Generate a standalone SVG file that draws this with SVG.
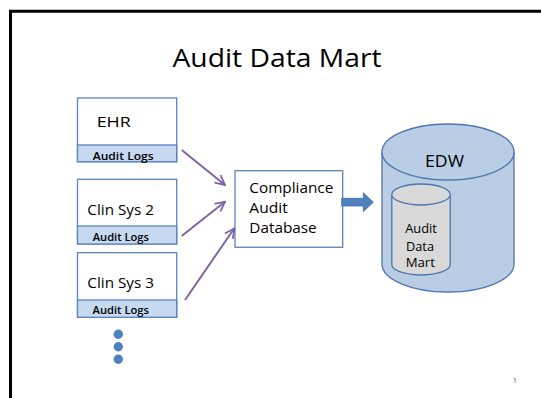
<svg xmlns="http://www.w3.org/2000/svg" width="541" height="398" viewBox="0 0 541 398">
<defs>
<style>
text{font-family:"Open Sans","Noto Sans",sans-serif;fill:#000}
.box{fill:#fff;stroke:#5B84BD;stroke-width:1.3}
.band{fill:#C6D9F1;stroke:#5B84BD;stroke-width:1.3}
.lbl{font-size:14.8px}
.logs{font-size:11px;font-weight:600}
.con{stroke:#8064A2;stroke-width:2;fill:none;marker-end:url(#ah)}
</style>
<marker id="ah" viewBox="0 0 10 10" refX="9" refY="5" markerWidth="6" markerHeight="6" orient="auto" markerUnits="strokeWidth">
<path d="M1,1 L9,5 L1,9" fill="none" stroke="#8064A2" stroke-width="1.5" stroke-linejoin="miter"/>
</marker>
</defs>
<rect width="541" height="398" fill="#fff"/>
<path d="M10.5,398 V11.3 H541" fill="none" stroke="#000" stroke-width="3"/>
<text x="277" y="66.7" font-size="25.8" text-anchor="middle" textLength="209" lengthAdjust="spacingAndGlyphs">Audit Data Mart</text>

<g id="ehr">
<rect class="box" x="77.5" y="98" width="99.2" height="63.7"/>
<rect class="band" x="77.5" y="145" width="99.2" height="16.7"/>
<text class="lbl" x="96.7" y="127.3" textLength="34" lengthAdjust="spacingAndGlyphs">EHR</text>
<text class="logs" x="92.7" y="159.5" font-size="11.6" textLength="61" lengthAdjust="spacingAndGlyphs">Audit Logs</text>
</g>
<g id="clin2">
<rect class="box" x="77.5" y="179.3" width="99.2" height="64.7"/>
<rect class="band" x="77.5" y="226" width="99.2" height="18"/>
<text class="lbl" x="87.3" y="215" textLength="66.7" lengthAdjust="spacingAndGlyphs">Clin Sys 2</text>
<text class="logs" x="92.7" y="240.7" textLength="56.3" lengthAdjust="spacingAndGlyphs">Audit Logs</text>
</g>
<g id="clin3">
<rect class="box" x="77.5" y="252.7" width="99.2" height="64.6"/>
<rect class="band" x="77.5" y="300" width="99.2" height="17.3"/>
<text class="lbl" x="87.3" y="287.7" textLength="66.7" lengthAdjust="spacingAndGlyphs">Clin Sys 3</text>
<text class="logs" x="92.5" y="314" textLength="56.5" lengthAdjust="spacingAndGlyphs">Audit Logs</text>
</g>
<g id="more" fill="#4F81BD">
<circle cx="118.3" cy="334.3" r="4.7"/>
<circle cx="118.3" cy="346.7" r="4.7"/>
<circle cx="118.3" cy="359.2" r="4.7"/>
</g>
<g id="compliance">
<rect class="box" x="235" y="170.7" width="107.7" height="76.6"/>
<text class="lbl" x="249.3" y="193.3" textLength="84" lengthAdjust="spacingAndGlyphs">Compliance</text>
<text class="lbl" x="249.3" y="213.3" textLength="38.4" lengthAdjust="spacingAndGlyphs">Audit</text>
<text class="lbl" x="249.3" y="233.3" textLength="67.4" lengthAdjust="spacingAndGlyphs">Database</text>
</g>
<g id="edw">
<path d="M382,152 V264 A66,28 0 0 0 514,264 V152" fill="#B9CDE5" stroke="#4F76AE" stroke-width="1.3"/>
<ellipse cx="448" cy="152" rx="66" ry="28" fill="#B9CDE5" stroke="#4F76AE" stroke-width="1.3"/>
<text x="444.5" y="166.7" font-size="15.4" text-anchor="middle" textLength="39" lengthAdjust="spacingAndGlyphs">EDW</text>
</g>
<g id="mart">
<path d="M391.8,194.5 V264.5 A29.2,10.5 0 0 0 450.2,264.5 V194.5" fill="#D9D9D9" stroke="#4F76AE" stroke-width="1.3"/>
<ellipse cx="421" cy="194.5" rx="29.2" ry="10.5" fill="#D9D9D9" stroke="#4F76AE" stroke-width="1.3"/>
<text x="421" y="233.3" font-size="12" text-anchor="middle" textLength="31.7" lengthAdjust="spacingAndGlyphs">Audit</text>
<text x="420" y="250.7" font-size="12" text-anchor="middle" textLength="28" lengthAdjust="spacingAndGlyphs">Data</text>
<text x="420.3" y="267.3" font-size="12" text-anchor="middle" textLength="29.3" lengthAdjust="spacingAndGlyphs">Mart</text>
</g>
<g id="connectors">
<line class="con" x1="181.7" y1="150" x2="225" y2="185"/>
<line class="con" x1="181.7" y1="236" x2="225" y2="201.7"/>
<line class="con" x1="185" y1="300" x2="234.3" y2="228.3"/>
<path d="M341.7,198.3 H363.3 V192.7 L373.3,202.2 L363.3,211.7 V206 H341.7 Z" fill="#4F81BD" stroke="#3F6EA8" stroke-width="0.8"/>
</g>
<text x="513" y="383" font-size="6.5" style="fill:#444">1</text>
</svg>
